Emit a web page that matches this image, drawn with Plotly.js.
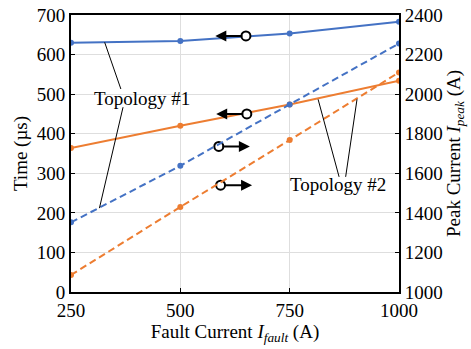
<!DOCTYPE html>
<html>
<head>
<meta charset="utf-8">
<script src="https://cdn.plot.ly/plotly-3.0.1.min.js"></script>
<style>html,body{margin:0;padding:0;background:#fff;}#chart{width:471px;height:349px;}</style>
</head>
<body>
<div id="chart"></div>
<script>
// Data
const faultCurrent = [250, 500, 750, 1000];
const timeTopo1 = [630, 634, 653, 683];
const timeTopo2 = [364, 420, 474, 534];
const peakTopo1 = [1352, 1638, 1948, 2256];
const peakTopo2 = [1086, 1430, 1768, 2110];
const xTicks = [250, 500, 750, 1000];

// Arrow annotations (circle tail -> arrow tip), in left-axis coordinates
const arrowTailX = [650, 652, 588, 592];
const arrowTipX = [580, 582, 659, 664];
const arrowY = [647, 450, 368, 270];

// Labels and leader lines
const labelText = ['Topology #1', 'Topology #2'];
const labelX = [412, 861];
const labelY = [490, 272];
const leaderX0 = [327, 369, 815, 904];
const leaderY0 = [631, 467, 487, 487];
const leaderX1 = [364, 315, 863, 878];
const leaderY1 = [513, 212, 291, 291];

const blue = '#4472C4';
const orange = '#ED7D31';
const font = 'Liberation Serif, Times New Roman, serif';

const traces = [
  {x: faultCurrent, y: timeTopo1, type: 'scatter', mode: 'lines+markers', line: {color: blue, width: 2}, marker: {color: blue, size: 6}, yaxis: 'y'},
  {x: faultCurrent, y: timeTopo2, type: 'scatter', mode: 'lines+markers', line: {color: orange, width: 2}, marker: {color: orange, size: 6}, yaxis: 'y'},
  {x: faultCurrent, y: peakTopo1, type: 'scatter', mode: 'lines+markers', line: {color: blue, width: 2, dash: '7px,4px'}, marker: {color: blue, size: 6}, yaxis: 'y2'},
  {x: faultCurrent, y: peakTopo2, type: 'scatter', mode: 'lines+markers', line: {color: orange, width: 2, dash: '7px,4px'}, marker: {color: orange, size: 6}, yaxis: 'y2'},
  {x: arrowTailX, y: arrowY, type: 'scatter', mode: 'markers', marker: {symbol: 'circle', size: 9, color: '#fff', line: {color: '#000', width: 2}}, yaxis: 'y', cliponaxis: false}
];

const annotations = [];
for (let i = 0; i < arrowY.length; i++) {
  annotations.push({
    x: arrowTipX[i], y: arrowY[i], ax: arrowTailX[i] + (arrowTipX[i] < arrowTailX[i] ? -5 : 5), ay: arrowY[i],
    xref: 'x', yref: 'y', axref: 'x', ayref: 'y',
    showarrow: true, arrowhead: 2, arrowsize: 1.1, arrowwidth: 2, arrowcolor: '#000', text: ''
  });
}
for (let i = 0; i < labelText.length; i++) {
  annotations.push({
    x: labelX[i], y: labelY[i], xref: 'x', yref: 'y', text: labelText[i], showarrow: false,
    xanchor: 'center', yanchor: 'middle', font: {family: font, size: 19, color: '#000'}
  });
}

const shapes = [];
for (let i = 0; i < leaderX0.length; i++) {
  shapes.push({type: 'line', xref: 'x', yref: 'y', x0: leaderX0[i], y0: leaderY0[i], x1: leaderX1[i], y1: leaderY1[i], line: {color: '#000', width: 1}});
}

const layout = {
  width: 471, height: 349,
  margin: {l: 71, r: 72, t: 15, b: 57},
  paper_bgcolor: '#fff', plot_bgcolor: '#fff',
  showlegend: false,
  font: {family: font, size: 19, color: '#000'},
  xaxis: {
    range: [250, 1000], tickvals: xTicks, ticktext: xTicks.map(String),
    showgrid: true, gridcolor: '#dedede', gridwidth: 1,
    showline: true, linecolor: '#000', linewidth: 2, mirror: true,
    ticks: 'inside', ticklen: 4, tickcolor: '#000', zeroline: false,
    title: {text: 'Fault Current <i>I</i><sub><i>fault</i></sub> (A)', font: {family: font, size: 19}, standoff: 4},
    tickfont: {family: font, size: 19}
  },
  yaxis: {
    range: [0, 700], dtick: 100, tick0: 0,
    showgrid: true, gridcolor: '#dedede', gridwidth: 1,
    showline: true, linecolor: '#000', linewidth: 2,
    ticks: 'inside', ticklen: 4, tickcolor: '#000', zeroline: false,
    title: {text: 'Time (µs)', font: {family: font, size: 19}, standoff: 4},
    tickfont: {family: font, size: 19}
  },
  yaxis2: {
    range: [1000, 2400], dtick: 200, tick0: 1000,
    overlaying: 'y', side: 'right', showgrid: false,
    showline: true, linecolor: '#000', linewidth: 2,
    ticks: 'inside', ticklen: 4, tickcolor: '#000', zeroline: false,
    title: {text: 'Peak Current <i>I</i><sub><i>peak</i></sub> (A)', font: {family: font, size: 19}, standoff: 4},
    tickfont: {family: font, size: 19}
  },
  annotations: annotations,
  shapes: shapes
};

Plotly.newPlot('chart', traces, layout, {staticPlot: true, displayModeBar: false});
</script>
</body>
</html>
